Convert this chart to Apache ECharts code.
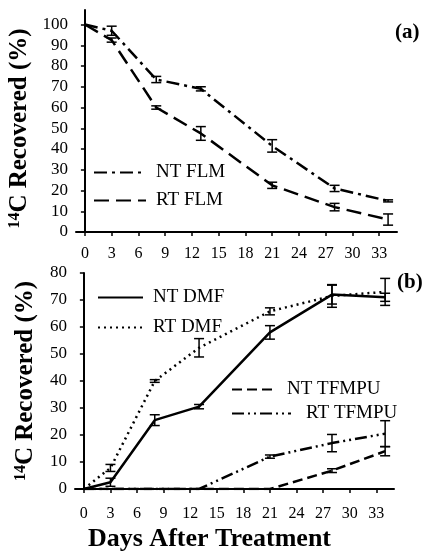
<!DOCTYPE html>
<html>
<head>
<meta charset="utf-8">
<script src="https://cdn.jsdelivr.net/npm/echarts@6/dist/echarts.min.js"></script>
<style>
  html, body { margin: 0; padding: 0; background: #fff; }
  #chart { width: 422px; height: 552px; }
</style>
</head>
<body>
<div id="chart"></div>
<script>
// Sampling days (days after treatment)
const days = [0, 3, 8, 13, 21, 28, 34];
const dayTicks = [0, 3, 6, 9, 12, 15, 18, 21, 24, 27, 30, 33];
const pctTicksA = [0, 10, 20, 30, 40, 50, 60, 70, 80, 90, 100];
const pctTicksB = [0, 10, 20, 30, 40, 50, 60, 70, 80];

// Panel (a): FLM remaining (%) with standard errors
const ntFlm = [100, 97, 73.5, 69, 41.5, 21, 15];
const ntFlmErr = [0, 2.2, 1.5, 1, 3, 1.5, 0.5];
const rtFlm = [100, 92.5, 60, 47.5, 22.5, 12, 6];
const rtFlmErr = [0, 1, 0.8, 3.3, 1.5, 1.8, 2.7];

// Panel (b): metabolites formed (%) with standard errors
const ntDmf = [0, 2.5, 25.5, 30.5, 58, 72, 71];
const ntDmfErr = [0, 1.5, 2, 0.8, 2.5, 3.5, 1.5];
const rtDmf = [0, 7.8, 40, 52.3, 65.8, 71.5, 73];
const rtDmfErr = [0, 1.3, 0.5, 3.4, 1.3, 4.2, 5];
const ntTfmpu = [0, 0, 0, 0, 0, 6.8, 14];
const ntTfmpuErr = [0, 0, 0, 0, 0, 0.7, 1.7];
const rtTfmpu = [0, 0, 0, 0, 12, 17, 20.5];
const rtTfmpuErr = [0, 0, 0, 0, 0.6, 3.2, 4.8];

const FONT = '"Liberation Serif", "Times New Roman", serif';
const INK = '#000';

function pairs(vals) {
  return days.map((d, i) => [d, vals[i]]);
}

function errData(vals, errs) {
  return days.map((d, i) => [d, vals[i] - errs[i], vals[i] + errs[i]])
    .filter((r, i) => errs[i] > 0);
}

function lineSeries(name, vals, dash, grid) {
  return {
    name: name,
    type: 'line',
    xAxisIndex: grid,
    yAxisIndex: grid,
    data: pairs(vals),
    symbol: 'none',
    silent: true,
    lineStyle: { color: INK, width: 2.5, type: dash },
    itemStyle: { color: INK },
    z: 3
  };
}

function errSeries(vals, errs, grid) {
  return {
    type: 'custom',
    xAxisIndex: grid,
    yAxisIndex: grid,
    silent: true,
    data: errData(vals, errs),
    encode: { x: 0, y: [1, 2] },
    renderItem: function (params, api) {
      const lo = api.coord([api.value(0), api.value(1)]);
      const hi = api.coord([api.value(0), api.value(2)]);
      const half = 5;
      const st = { stroke: INK, lineWidth: 1.5 };
      return {
        type: 'group',
        children: [
          { type: 'line', shape: { x1: lo[0], y1: lo[1], x2: hi[0], y2: hi[1] }, style: st },
          { type: 'line', shape: { x1: lo[0] - half, y1: lo[1], x2: lo[0] + half, y2: lo[1] }, style: st },
          { type: 'line', shape: { x1: hi[0] - half, y1: hi[1], x2: hi[0] + half, y2: hi[1] }, style: st }
        ]
      };
    },
    z: 4
  };
}

function xAxis(grid, margin) {
  return {
    type: 'value',
    gridIndex: grid,
    min: -1,
    max: 35,
    axisLine: { show: true, lineStyle: { color: INK, width: 2 } },
    axisTick: { show: true, inside: false, length: 4, customValues: dayTicks, lineStyle: { color: INK, width: 1.5 } },
    axisLabel: { customValues: dayTicks, color: INK, fontFamily: FONT, fontSize: 16, margin: margin },
    splitLine: { show: false }
  };
}

function yAxis(grid, max, ticks, nameOffset) {
  return {
    type: 'value',
    gridIndex: grid,
    min: 0,
    max: max,
    name: '{s|14}C Recovered (%)',
    nameLocation: 'middle',
    nameGap: 37,
    nameRotate: 90,
    nameTextStyle: {
      color: INK, fontFamily: FONT, fontSize: 25, fontWeight: 'bold',
      padding: nameOffset,
      rich: { s: { fontFamily: FONT, fontSize: 16, fontWeight: 'bold', color: INK, verticalAlign: 'top', padding: [0, 0, 9, 0] } }
    },
    axisLine: { show: true, lineStyle: { color: INK, width: 2 } },
    axisTick: { show: true, inside: false, length: 4, customValues: ticks, lineStyle: { color: INK, width: 1.5 } },
    axisLabel: { customValues: ticks, color: INK, fontFamily: FONT, fontSize: 17, margin: 8 },
    splitLine: { show: false }
  };
}

function legend(names, left, top, iconW, itemGap, textPad) {
  return {
    data: names,
    orient: 'vertical',
    left: left,
    top: top,
    padding: 0,
    itemWidth: iconW,
    itemHeight: 14,
    itemGap: itemGap,
    selectedMode: false,
    // line samples only, no marker glyph
    itemStyle: { color: 'rgba(0,0,0,0)', borderWidth: 0, opacity: 0 },
    textStyle: { color: INK, fontFamily: FONT, fontSize: 19, padding: [0, 0, 0, textPad] }
  };
}

const chart = echarts.init(document.getElementById('chart'), null, { renderer: 'canvas' });

const xb = xAxis(1, 17);
xb.name = 'Days After Treatment';
xb.nameLocation = 'middle';
xb.nameGap = 37;
xb.nameTextStyle = { color: INK, fontFamily: FONT, fontSize: 26, fontWeight: 'bold', padding: [0, 50, 0, 0] };

chart.setOption({
  backgroundColor: '#fff',
  animation: false,
  grid: [
    { left: 76, top: 10, width: 321, height: 222, outerBoundsMode: 'none', containLabel: false },
    { left: 75, top: 273, width: 319, height: 216, outerBoundsMode: 'none', containLabel: false }
  ],
  xAxis: [xAxis(0, 14), xb],
  yAxis: [yAxis(0, 107, pctTicksA, [0, 15, 0, 0]), yAxis(1, 80, pctTicksB, [0, 0, 0, 0])],
  legend: [
    legend(['NT FLM', 'RT FLM'], 93, 163, 52, 9, 5),
    legend(['NT DMF', 'RT DMF'], 97, 288, 45, 11, 5),
    legend(['NT TFMPU'], 231, 380, 42, 0, 8),
    legend(['RT TFMPU'], 231, 404, 59, 0, 10)
  ],
  graphic: [
    { type: 'text', left: 395, top: 22, style: { text: '(a)', fill: INK, font: 'bold 21px ' + FONT } },
    { type: 'text', left: 397, top: 272, style: { text: '(b)', fill: INK, font: 'bold 21px ' + FONT } }
  ],
  series: [
    lineSeries('NT FLM', ntFlm, [13, 5, 3, 5], 0),
    lineSeries('RT FLM', rtFlm, [15, 7], 0),
    errSeries(ntFlm, ntFlmErr, 0),
    errSeries(rtFlm, rtFlmErr, 0),
    lineSeries('NT DMF', ntDmf, 'solid', 1),
    lineSeries('RT DMF', rtDmf, [2, 4], 1),
    lineSeries('NT TFMPU', ntTfmpu, [10, 5], 1),
    lineSeries('RT TFMPU', rtTfmpu, [12, 4, 2, 4, 2, 4], 1),
    errSeries(ntDmf, ntDmfErr, 1),
    errSeries(rtDmf, rtDmfErr, 1),
    errSeries(ntTfmpu, ntTfmpuErr, 1),
    errSeries(rtTfmpu, rtTfmpuErr, 1)
  ]
});
</script>
</body>
</html>
